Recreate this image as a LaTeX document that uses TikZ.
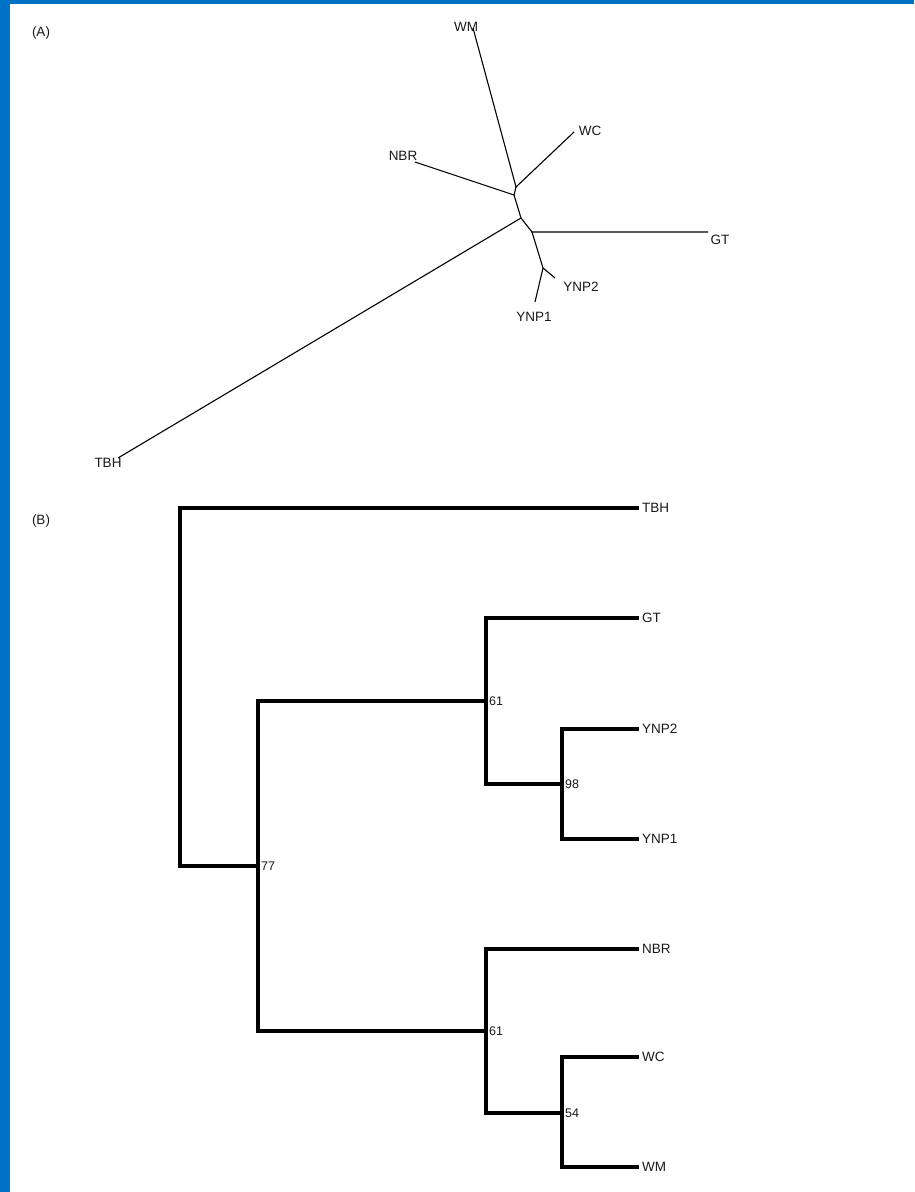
\documentclass[tikz,border=0pt]{standalone}
\usepackage{fontspec}
\setmainfont{Liberation Sans}
\usepackage{xcolor}
\usepackage{tikz}
\usetikzlibrary{positioning}
\usetikzlibrary{calc}
\definecolor{frameblue}{RGB}{0,114,198}

\begin{document}
\begin{tikzpicture}[x=1pt, y=-1pt,
    every node/.style={font=\fontsize{13.5}{16}\selectfont, text=black!90},
    branch/.style={line width=1.1pt, black},
    clade/.style={line width=3.2pt, black, line cap=rect, line join=miter},
    leaf/.style={anchor=west, inner xsep=5pt, inner ysep=0pt, outer sep=0pt},
    boot/.style={anchor=west, inner xsep=3pt, inner ysep=0pt, font=\fontsize{12.5}{14}\selectfont}]
    \useasboundingbox (0,0) rectangle (914,1192);
    \fill[white] (0,0) rectangle (914,1192);
    \fill[frameblue] (0,0) rectangle (10,1192);
    \fill[frameblue] (0,0) rectangle (914,4);

    % (A) unrooted tree
    \node (labA) at (41,33) {(A)};
    \coordinate (u1) at (516,187);
    \coordinate (u2) at (514,195);
    \coordinate (u3) at (521,218);
    \coordinate (u4) at (532,232);
    \coordinate (u5) at (543,268);
    \coordinate (wmA) at (473,28);
    \coordinate (wcA) at (574,132);
    \coordinate (nbrA) at (415,162);
    \coordinate (gtA) at (708,232);
    \coordinate (ynp2A) at (555,278);
    \coordinate (ynp1A) at (535,302);
    \coordinate (tbhA) at (118,458);
    \node (wmT) at (466,27) {WM};
    \node (wcT) at (590,131) {WC};
    \node (nbrT) at (403,156) {NBR};
    \node (gtT) at (720,240) {GT};
    \node (ynp2T) at (581,287) {YNP2};
    \node (ynp1T) at (534,317) {YNP1};
    \node (tbhT) at (108,463) {TBH};

    \draw[branch] (wmA) -- (u1) -- (wcA);
    \draw[branch] (u1) -- (u2) -- (nbrA);
    \draw[branch] (u2) -- (u3) -- (tbhA);
    \draw[branch] (u3) -- (u4) -- (gtA);
    \draw[branch] (u4) -- (u5) -- (ynp2A);
    \draw[branch] (u5) -- (ynp1A);

    % (B) rooted tree
    \node (labB) at (41,521) {(B)};
    \coordinate (root) at (180,866);
    \coordinate (n77) at (258,866);
    \coordinate (n61a) at (486,701);
    \coordinate (n98) at (562,784);
    \coordinate (n61b) at (486,1031);
    \coordinate (n54) at (562,1113);
    \node[leaf] (tbhB) at (637,508) {TBH};
    \node[leaf] (gtB) at (637,618) {GT};
    \node[leaf] (ynp2B) at (637,729) {YNP2};
    \node[leaf] (ynp1B) at (637,839) {YNP1};
    \node[leaf] (nbrB) at (637,949) {NBR};
    \node[leaf] (wcB) at (637,1057) {WC};
    \node[leaf] (wmB) at (637,1167) {WM};

    \draw[clade] (tbhB.west) -| (root) -- (n77);
    \draw[clade] (n61a) -| (n77) |- (n61b);
    \draw[clade] (gtB.west) -| (n61a) |- (n98);
    \draw[clade] (ynp2B.west) -| (n98) |- (ynp1B.west);
    \draw[clade] (nbrB.west) -| (n61b) |- (n54);
    \draw[clade] (wcB.west) -| (n54) |- (wmB.west);

    \node[boot] (b77) at (n77) {77};
    \node[boot] (b61a) at (n61a) {61};
    \node[boot] (b98) at (n98) {98};
    \node[boot] (b61b) at (n61b) {61};
    \node[boot] (b54) at (n54) {54};
\end{tikzpicture}
\end{document}
